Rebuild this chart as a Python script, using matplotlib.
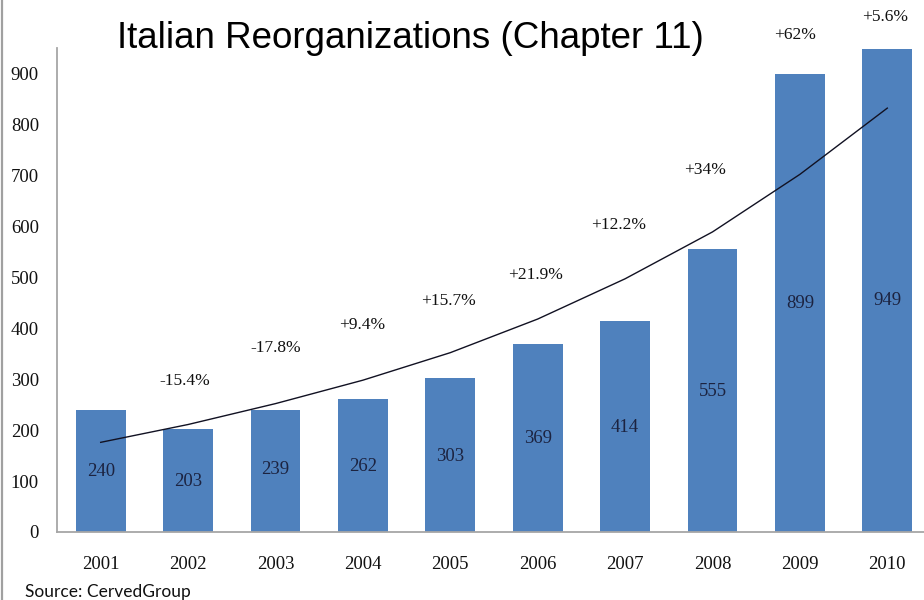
import matplotlib
matplotlib.use("Agg")
import matplotlib.pyplot as plt
from matplotlib.lines import Line2D
import numpy as np

# Reorganization filings per year
years = ["2001", "2002", "2003", "2004", "2005", "2006", "2007", "2008", "2009", "2010"]
filings = [240, 203, 239, 262, 303, 369, 414, 555, 899, 949]

# Year-on-year change labels (2002 onwards)
change_labels = ["-15.4%", "-17.8%", "+9.4%", "+15.7%", "+21.9%",
                 "+12.2%", "+34%", "+62%", "+5.6%"]

# Exponential trend line values at each year
trend = [176, 211, 252, 298, 352, 418, 497, 589, 702, 832]

y_ticks = [0, 100, 200, 300, 400, 500, 600, 700, 800, 900]

# Label placement (data units)
value_label_y = [118, 100, 122, 129, 149, 184, 206, 275, 449, 455]
change_label_y = [296, 361, 406, 453, 504, 602, 710, 976, 1010]
change_label_dx = [-0.04, 0.0, -0.01, -0.02, -0.02, -0.07, -0.09, -0.06, -0.03]

W, H = 924, 600
fig = plt.figure(figsize=(W / 100, H / 100), dpi=100)
fig.patch.set_facecolor("white")

ax_left, ax_bottom, ax_top = 57, 532, 48
ax_width = 874
ax = fig.add_axes([ax_left / W, (H - ax_bottom) / H,
                   ax_width / W, (ax_bottom - ax_top) / H])

x = np.arange(len(years))
bar_color = "#4F81BD"
ax.bar(x, filings, width=0.572, color=bar_color, zorder=2)

ax.plot(x, trend, color="#111122", linewidth=1.0, zorder=3,
        solid_joinstyle="round")

serif = ["Liberation Serif", "DejaVu Serif"]

for xi, v, ly in zip(x, filings, value_label_y):
    ax.text(xi, ly, str(v), ha="center", va="center", fontsize=13.5,
            family=serif, color="#1c2340", zorder=4)

for xi, lab, ly, dx in zip(x[1:], change_labels, change_label_y, change_label_dx):
    ax.text(xi + dx, ly, lab, ha="center", va="center", fontsize=12.5,
            family=serif, color="#111111", zorder=4, clip_on=False)

ax.set_xlim(-0.5, len(years) - 0.5)
ax.set_ylim(0, 950)
ax.set_yticks(y_ticks)
ax.set_yticklabels([str(t) for t in y_ticks])
ax.set_xticks(x)
ax.set_xticklabels(years)

for lab in ax.get_yticklabels() + ax.get_xticklabels():
    lab.set_fontfamily(serif)
    lab.set_fontsize(13.5)
    lab.set_color("#111111")

ax.tick_params(axis="y", length=0, pad=13)
ax.tick_params(axis="x", length=0, pad=17)

for side in ["top", "right"]:
    ax.spines[side].set_visible(False)
for side in ["left", "bottom"]:
    ax.spines[side].set_color("#a6a6a6")
    ax.spines[side].set_linewidth(1.3)

# Title
fig.text(410 / W, 1 - 38 / H, "Italian Reorganizations (Chapter 11)",
         ha="center", va="center", fontsize=26.5,
         family=["Liberation Sans", "DejaVu Sans"], color="black")

# Source note
fig.text(25 / W, 1 - 597 / H, "Source: CervedGroup", ha="left", va="baseline",
         fontsize=12.5, family=["Lato", "DejaVu Sans"], color="#111111")

# Left frame edge
fig.add_artist(Line2D([1.5 / W, 1.5 / W], [0, 1], transform=fig.transFigure,
                      color="#a0a0a0", linewidth=1.6))

fig.savefig("out.png", dpi=100, facecolor="white")
